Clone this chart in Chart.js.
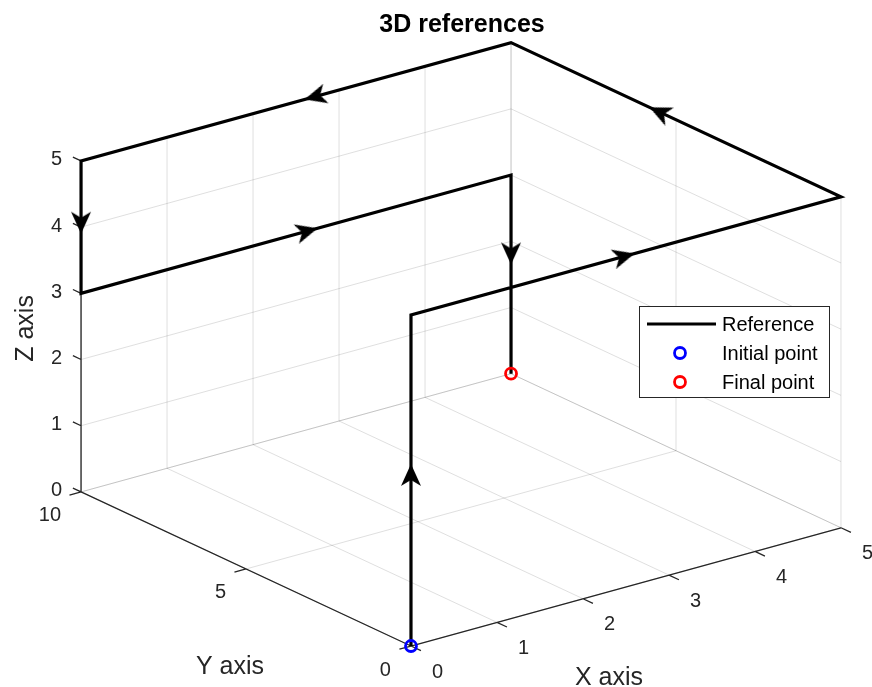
<!DOCTYPE html>
<html lang="en">
<head>
    <meta charset="UTF-8">
    <title>3D references</title>
    <script src="https://cdn.jsdelivr.net/npm/chart.js"></script>
    <style>
        body {
            margin: 0;
            padding: 0;
            background-color: #fff;
        }
        .chartBox {
            position: relative;
            width: 872px;
            height: 687px;
        }
    </style>
</head>
<body>
    <div class="chartBox">
        <canvas id="myChart"></canvas>
    </div>
    <script>
        // corners of the reference path
        const pathX = [0, 0, 5, 5, 0, 0, 5, 5];
        const pathY = [0, 0, 0, 10, 10, 10, 10, 10];
        const pathZ = [0, 5, 5, 5, 5, 3, 3, 0];

        // where the arrowhead tip sits on each leg
        const arrowX = [0, 2.6, 5, 2.6, 0, 2.75, 5];
        const arrowY = [0, 0, 5.8, 10, 10, 10, 10];
        const arrowZ = [2.75, 5, 5, 5, 3.9, 3, 1.65];

        const xTicks = [0, 1, 2, 3, 4, 5];
        const yTicks = [0, 5, 10];
        const zTicks = [0, 1, 2, 3, 4, 5];

        const xLim = [0, 5], yLim = [0, 10], zLim = [0, 5];
        const az = -37.5, el = 30.4;   // view angles in degrees

        const font = "'Liberation Sans', Arial, Helvetica, sans-serif";
        const axisColor = '#262626';
        const gridColor = 'rgba(38, 38, 38, 0.15)';

        // box coords -> flat view coords (az/el like view(3))
        function project(x, y, z) {
            const a = az * Math.PI / 180, e = el * Math.PI / 180;
            const xn = (x - xLim[0]) / (xLim[1] - xLim[0]);
            const yn = (y - yLim[0]) / (yLim[1] - yLim[0]);
            const zn = (z - zLim[0]) / (zLim[1] - zLim[0]);
            return {
                x: xn * Math.cos(a) + yn * Math.sin(a),
                y: -xn * Math.sin(a) * Math.sin(e) + yn * Math.cos(a) * Math.sin(e) + zn * Math.cos(e)
            };
        }

        function pix(chart, x, y, z) {
            const p = project(x, y, z);
            return { x: chart.scales.x.getPixelForValue(p.x), y: chart.scales.y.getPixelForValue(p.y) };
        }

        function makeArrowHead() {
            const c = document.createElement('canvas');
            c.width = 48;
            c.height = 48;
            const g = c.getContext('2d');
            g.fillStyle = '#000';
            g.beginPath();
            g.moveTo(24, 24);
            g.lineTo(2, 14);
            g.lineTo(8, 24);
            g.lineTo(2, 34);
            g.closePath();
            g.fill();
            return c;
        }

        const pathData = pathX.map((x, i) => project(x, pathY[i], pathZ[i]));
        const arrowData = arrowX.map((x, i) => project(x, arrowY[i], arrowZ[i]));
        const arrowHead = makeArrowHead();

        function seg(chart, p, q) {
            const a = pix(chart, ...p), b = pix(chart, ...q);
            chart.ctx.moveTo(a.x, a.y);
            chart.ctx.lineTo(b.x, b.y);
        }

        // unit direction on screen for a step along one data axis
        function dirOf(chart, from, step) {
            const a = pix(chart, ...from);
            const b = pix(chart, from[0] + step[0], from[1] + step[1], from[2] + step[2]);
            const len = Math.hypot(b.x - a.x, b.y - a.y);
            return { x: (b.x - a.x) / len, y: (b.y - a.y) / len };
        }

        const boxPlugin = {
            id: 'box3d',
            beforeDatasetsDraw(chart) {
                const ctx = chart.ctx;
                const [x0, x1] = xLim, [y0, y1] = yLim, [z0, z1] = zLim;
                ctx.save();

                // grid on floor and the two back walls
                ctx.strokeStyle = gridColor;
                ctx.lineWidth = 1;
                ctx.beginPath();
                xTicks.forEach(x => { seg(chart, [x, y0, z0], [x, y1, z0]); seg(chart, [x, y1, z0], [x, y1, z1]); });
                yTicks.forEach(y => { seg(chart, [x0, y, z0], [x1, y, z0]); seg(chart, [x1, y, z0], [x1, y, z1]); });
                zTicks.forEach(z => { seg(chart, [x0, y1, z], [x1, y1, z]); seg(chart, [x1, y0, z], [x1, y1, z]); });
                ctx.stroke();

                // axis lines
                ctx.strokeStyle = axisColor;
                ctx.lineWidth = 1.3;
                ctx.beginPath();
                seg(chart, [x0, y0, z0], [x1, y0, z0]);
                seg(chart, [x0, y0, z0], [x0, y1, z0]);
                seg(chart, [x0, y1, z0], [x0, y1, z1]);

                const dx = dirOf(chart, [x0, y0, z0], [0, -1, 0]);
                const dy = dirOf(chart, [x0, y0, z0], [-1, 0, 0]);
                const dz = dirOf(chart, [x0, y1, z0], [0, 1, 0]);
                xTicks.forEach(x => {
                    const p = pix(chart, x, y0, z0);
                    ctx.moveTo(p.x, p.y);
                    ctx.lineTo(p.x + dx.x * 11, p.y + dx.y * 11);
                });
                yTicks.forEach(y => {
                    const p = pix(chart, x0, y, z0);
                    ctx.moveTo(p.x, p.y);
                    ctx.lineTo(p.x + dy.x * 12, p.y + dy.y * 12);
                });
                zTicks.forEach(z => {
                    const p = pix(chart, x0, y1, z);
                    ctx.moveTo(p.x, p.y);
                    ctx.lineTo(p.x + dz.x * 9, p.y + dz.y * 9);
                });
                ctx.stroke();

                // tick labels
                ctx.fillStyle = axisColor;
                ctx.font = '20px ' + font;
                ctx.textBaseline = 'middle';
                ctx.textAlign = 'left';
                xTicks.forEach(x => {
                    const p = pix(chart, x, y0, z0);
                    ctx.fillText(String(x), p.x + 21, p.y + 26);
                });
                ctx.textAlign = 'right';
                yTicks.forEach(y => {
                    const p = pix(chart, x0, y, z0);
                    ctx.fillText(String(y), p.x - 20, p.y + 24);
                });
                zTicks.forEach(z => {
                    const p = pix(chart, x0, y1, z);
                    ctx.fillText(String(z), p.x - 19, p.y - 1);
                });

                // axis titles
                ctx.font = '25px ' + font;
                ctx.textAlign = 'center';
                let p = pix(chart, (x0 + x1) / 2, y0, z0);
                ctx.fillText('X axis', p.x - 17, p.y + 91);
                p = pix(chart, x0, (y0 + y1) / 2, z0);
                ctx.fillText('Y axis', p.x - 16, p.y + 98);
                p = pix(chart, x0, y1, (z0 + z1) / 2);
                ctx.translate(p.x - 55, p.y + 2);
                ctx.rotate(-Math.PI / 2);
                ctx.fillText('Z axis', 0, 0);
                ctx.restore();

                ctx.save();
                ctx.fillStyle = '#000';
                ctx.font = 'bold 25px ' + font;
                ctx.textAlign = 'center';
                ctx.textBaseline = 'middle';
                ctx.fillText('3D references', 462, 25);
                ctx.restore();
            },
            afterDraw(chart) {
                const ctx = chart.ctx;
                const ds = chart.data.datasets;
                ctx.save();
                ctx.fillStyle = '#fff';
                ctx.strokeStyle = axisColor;
                ctx.lineWidth = 1;
                ctx.fillRect(639, 306, 190, 91);
                ctx.strokeRect(639.5, 306.5, 190, 91);

                ctx.font = '20px ' + font;
                ctx.textBaseline = 'middle';
                ctx.textAlign = 'left';
                const rows = [0, 2, 3];
                rows.forEach((k, r) => {
                    const y = 324 + r * 29;
                    const d = ds[k];
                    if (k === 0) {
                        ctx.strokeStyle = d.borderColor;
                        ctx.lineWidth = d.borderWidth;
                        ctx.beginPath();
                        ctx.moveTo(647, y);
                        ctx.lineTo(716, y);
                        ctx.stroke();
                    } else {
                        ctx.strokeStyle = d.pointBorderColor;
                        ctx.lineWidth = d.pointBorderWidth;
                        ctx.beginPath();
                        ctx.arc(680, y, d.pointRadius, 0, Math.PI * 2);
                        ctx.stroke();
                    }
                    ctx.fillStyle = '#000';
                    ctx.fillText(d.label, 722, y + 1);
                });
                ctx.restore();
            }
        };

        const ctx = document.getElementById('myChart');

        const myChart = new Chart(ctx, {
            type: 'scatter',
            data: {
                datasets: [{
                    label: 'Reference',
                    data: pathData,
                    showLine: true,
                    borderColor: '#000',
                    borderWidth: 3.2,
                    borderJoinStyle: 'miter',
                    pointRadius: 0,
                    order: 3
                }, {
                    label: 'arrows',
                    data: arrowData,
                    pointStyle: arrowHead,
                    rotation: (c) => {
                        const i = c.dataIndex;
                        const a = pix(c.chart, pathX[i], pathY[i], pathZ[i]);
                        const b = pix(c.chart, pathX[i + 1], pathY[i + 1], pathZ[i + 1]);
                        return Math.atan2(b.y - a.y, b.x - a.x) * 180 / Math.PI;
                    },
                    order: 2
                }, {
                    label: 'Initial point',
                    data: [project(pathX[0], pathY[0], pathZ[0])],
                    pointStyle: 'circle',
                    pointRadius: 5.5,
                    pointBorderWidth: 2.8,
                    pointBorderColor: '#0000ff',
                    pointBackgroundColor: 'rgba(0,0,0,0)',
                    order: 1
                }, {
                    label: 'Final point',
                    data: [project(pathX[7], pathY[7], pathZ[7])],
                    pointStyle: 'circle',
                    pointRadius: 5.5,
                    pointBorderWidth: 2.8,
                    pointBorderColor: '#ff0000',
                    pointBackgroundColor: 'rgba(0,0,0,0)',
                    order: 1
                }]
            },
            options: {
                responsive: true,
                maintainAspectRatio: false,
                animation: false,
                layout: { padding: 0, autoPadding: false },
                plugins: {
                    legend: { display: false },
                    tooltip: { enabled: false }
                },
                scales: {
                    x: { type: 'linear', min: -0.7583, max: 0.8506, display: false },
                    y: { type: 'linear', min: -0.1068, max: 1.6832, display: false }
                }
            },
            plugins: [boxPlugin]
        });
    </script>
</body>
</html>
